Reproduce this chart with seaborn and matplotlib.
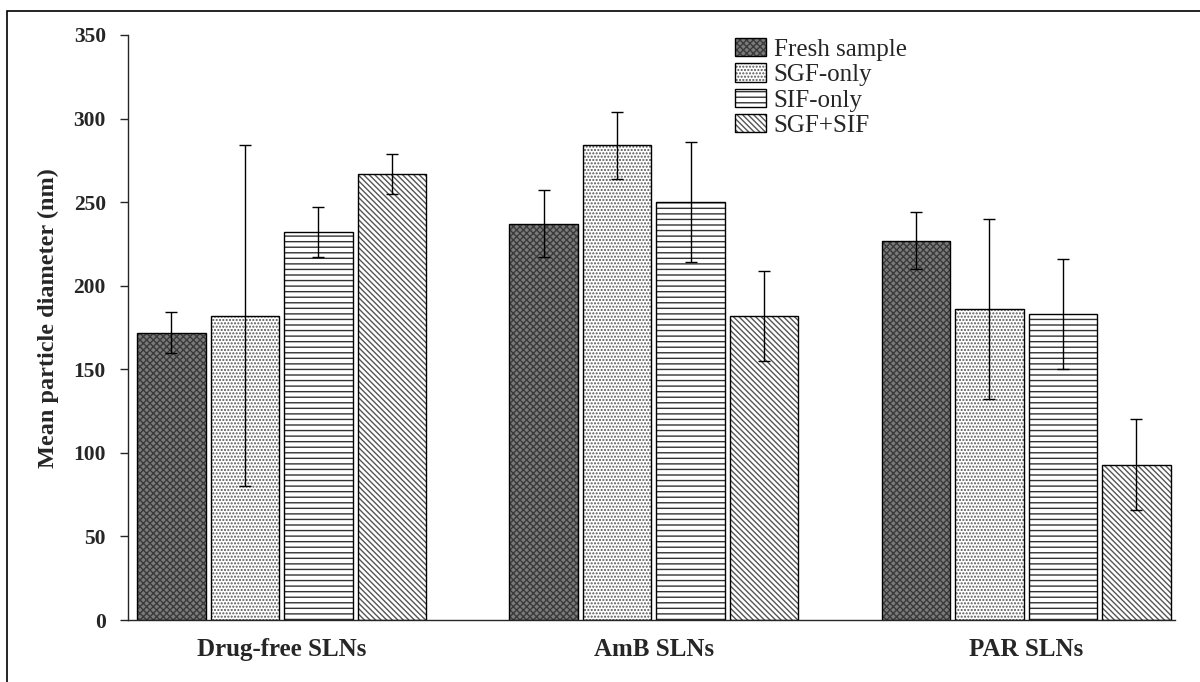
import numpy as np
import pandas as pd
import seaborn as sns
import matplotlib.pyplot as plt
from matplotlib.patches import Rectangle, Patch

formulations = ['Drug-free SLNs', 'AmB SLNs', 'PAR SLNs']
conditions = ['Fresh sample', 'SGF-only', 'SIF-only', 'SGF+SIF']
fresh = [172, 237, 227]
sgf_only = [182, 284, 186]
sif_only = [232, 250, 183]
sgf_sif = [267, 182, 93]
fresh_err = [12, 20, 17]
sgf_only_err = [102, 20, 54]
sif_only_err = [15, 36, 33]
sgf_sif_err = [12, 27, 27]

means = [fresh, sgf_only, sif_only, sgf_sif]
errs = [fresh_err, sgf_only_err, sif_only_err, sgf_sif_err]

rows = []
for cond, vals, ev in zip(conditions, means, errs):
    for form, v, e in zip(formulations, vals, ev):
        rows.append({'formulation': form, 'condition': cond, 'size': v, 'err': e})
df = pd.DataFrame(rows)

sns.set_style('white')
plt.rcParams['font.family'] = ['Liberation Serif', 'DejaVu Serif']
plt.rcParams['hatch.linewidth'] = 1.0

fig = plt.figure(figsize=(12, 6.82), dpi=100)
ax = fig.add_axes([0.1067, 0.0909, 0.8725, 0.8578])

styles = {
    'Fresh sample': ('#7a7a7a', 'xxxxx', '#3a3a3a'),
    'SGF-only': ('white', '.....', '#555555'),
    'SIF-only': ('white', '---', '#333333'),
    'SGF+SIF': ('white', '\\\\\\\\\\\\', '#555555'),
}
palette = {c: styles[c][0] for c in conditions}

sns.barplot(data=df, x='formulation', y='size', hue='condition',
            order=formulations, hue_order=conditions, palette=palette,
            width=0.79, gap=0.07, errorbar=None, edgecolor='black',
            linewidth=1.0, ax=ax, legend=False)

for cond, container in zip(conditions, ax.containers):
    fc, hatch, hc = styles[cond]
    sub = df[df['condition'] == cond].set_index('formulation').loc[formulations]
    xs = []
    for bar in container:
        bar.set_hatch(hatch)
        bar._hatch_color = plt.matplotlib.colors.to_rgba(hc)
        xs.append(bar.get_x() + bar.get_width() / 2)
    ax.errorbar(xs, sub['size'].values, yerr=sub['err'].values, fmt='none',
                ecolor='black', elinewidth=1.0, capsize=4, capthick=1.0)

ax.set_ylim(0, 350)
ax.set_xlim(-0.4126, 2.4)
ax.set_yticks(range(0, 351, 50))
ax.set_ylabel('Mean particle diameter (nm)', fontsize=17.5, fontweight='bold')
ax.yaxis.set_label_coords(-0.066, 0.516)
ax.set_xlabel('')
for lbl in ax.get_yticklabels():
    lbl.set_fontweight('bold')
    lbl.set_fontsize(15.5)
for lbl in ax.get_xticklabels():
    lbl.set_fontweight('bold')
    lbl.set_fontsize(18)
ax.tick_params(axis='y', direction='out', length=6, width=1, left=True, pad=10)
ax.tick_params(axis='x', length=0, pad=13)
sns.despine(ax=ax, top=True, right=True)
ax.spines['left'].set_linewidth(1.0)
ax.spines['bottom'].set_linewidth(1.0)

handles = []
for cond in conditions:
    fc, hatch, hc = styles[cond]
    p = Patch(facecolor=fc, edgecolor='black', hatch=hatch, linewidth=1.0, label=cond)
    handles.append(p)
leg = ax.legend(handles=handles, loc='upper left', bbox_to_anchor=(0.570, 1.012),
                frameon=False, fontsize=18, handlelength=1.25, handleheight=0.75,
                handletextpad=0.3, labelspacing=0.1, borderaxespad=0.0)
for h, cond in zip(leg.legend_handles, conditions):
    h._hatch_color = plt.matplotlib.colors.to_rgba(styles[cond][2])

fig.patches.append(Rectangle((7 / 1200, -0.05), 1.1, 1 - 11 / 682 + 0.05,
                             transform=fig.transFigure, fill=False,
                             edgecolor='black', linewidth=1.2))

fig.savefig('out.png', dpi=100)
